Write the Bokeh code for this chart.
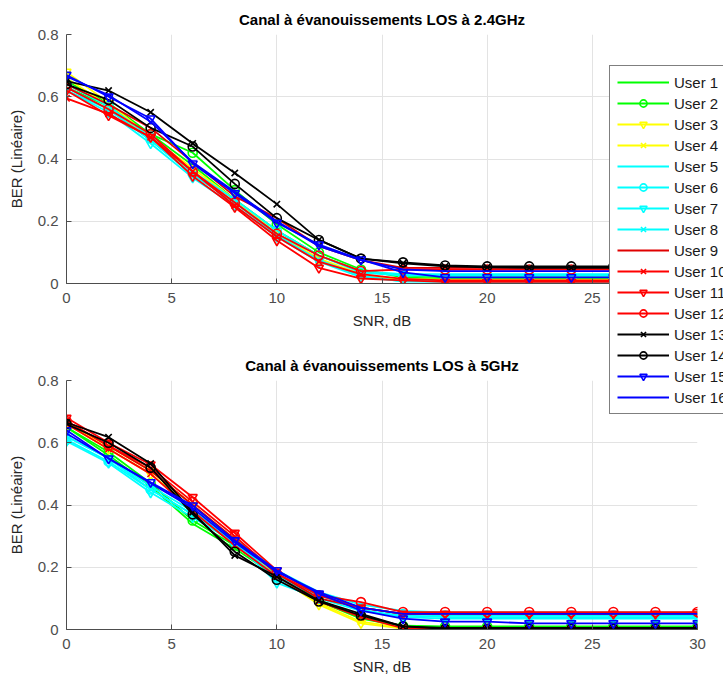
from bokeh.plotting import figure
from bokeh.layouts import column
from bokeh.models import Legend, LegendItem, FixedTicker, Range1d, ColumnDataSource
from bokeh.embed import file_html
from bokeh.resources import INLINE

# ---------------- data ----------------
snr_db = [0, 2, 4, 6, 8, 10, 12, 14, 16, 18, 20, 22, 24, 26, 28, 30]
users = ["User %d" % i for i in range(1, 17)]

title_24 = "Canal à évanouissements LOS à 2.4GHz"
title_5 = "Canal à évanouissements LOS à 5GHz"
x_label = "SNR, dB"
y_label = "BER (Linéaire)"
x_ticks = [0, 5, 10, 15, 20, 25, 30]
y_ticks = [0, 0.2, 0.4, 0.6, 0.8]
y_tick_labels = ["0", "0.2", "0.4", "0.6", "0.8"]

# 2.4 GHz panel
ber_24_u1 = [0.65, 0.58, 0.48, 0.38, 0.27, 0.17, 0.09, 0.04, 0.025, 0.02, 0.02, 0.02, 0.02, 0.02, 0.02, 0.02]
ber_24_u2 = [0.63, 0.57, 0.48, 0.42, 0.30, 0.19, 0.10, 0.045, 0.02, 0.015, 0.015, 0.015, 0.015, 0.015, 0.015, 0.015]
ber_24_u3 = [0.68, 0.58, 0.47, 0.37, 0.27, 0.16, 0.08, 0.03, 0.012, 0.01, 0.01, 0.01, 0.01, 0.01, 0.01, 0.01]
ber_24_u4 = [0.66, 0.57, 0.46, 0.36, 0.26, 0.16, 0.075, 0.025, 0.015, 0.012, 0.012, 0.012, 0.012, 0.012, 0.012, 0.012]
ber_24_u5 = [0.63, 0.56, 0.46, 0.35, 0.26, 0.16, 0.09, 0.04, 0.03, 0.03, 0.03, 0.03, 0.03, 0.03, 0.03, 0.03]
ber_24_u6 = [0.64, 0.57, 0.47, 0.36, 0.27, 0.17, 0.09, 0.035, 0.025, 0.025, 0.025, 0.025, 0.025, 0.025, 0.025, 0.025]
ber_24_u7 = [0.62, 0.55, 0.45, 0.34, 0.25, 0.15, 0.07, 0.02, 0.008, 0.008, 0.008, 0.008, 0.008, 0.008, 0.008, 0.008]
ber_24_u8 = [0.62, 0.56, 0.46, 0.35, 0.26, 0.155, 0.075, 0.025, 0.006, 0.005, 0.005, 0.005, 0.005, 0.005, 0.005, 0.005]
ber_24_u9 = [0.64, 0.575, 0.50, 0.39, 0.28, 0.21, 0.12, 0.075, 0.05, 0.05, 0.05, 0.05, 0.05, 0.05, 0.05, 0.05]
ber_24_u10 = [0.595, 0.545, 0.47, 0.36, 0.25, 0.15, 0.07, 0.03, 0.015, 0.01, 0.01, 0.01, 0.01, 0.01, 0.01, 0.01]
ber_24_u11 = [0.62, 0.54, 0.47, 0.345, 0.245, 0.138, 0.05, 0.016, 0.01, 0.005, 0.005, 0.005, 0.005, 0.005, 0.005, 0.005]
ber_24_u12 = [0.63, 0.56, 0.48, 0.36, 0.26, 0.16, 0.09, 0.04, 0.045, 0.045, 0.045, 0.045, 0.045, 0.045, 0.045, 0.045]
ber_24_u13 = [0.65, 0.62, 0.55, 0.45, 0.355, 0.255, 0.14, 0.08, 0.065, 0.055, 0.052, 0.05, 0.05, 0.05, 0.05, 0.05]
ber_24_u14 = [0.64, 0.59, 0.50, 0.44, 0.32, 0.21, 0.14, 0.08, 0.068, 0.058, 0.055, 0.055, 0.055, 0.055, 0.055, 0.055]
ber_24_u15 = [0.67, 0.60, 0.53, 0.385, 0.29, 0.195, 0.125, 0.077, 0.036, 0.02, 0.02, 0.02, 0.02, 0.02, 0.02, 0.02]
ber_24_u16 = [0.665, 0.605, 0.52, 0.39, 0.295, 0.20, 0.12, 0.075, 0.045, 0.04, 0.04, 0.04, 0.04, 0.04, 0.04, 0.04]

# 5 GHz panel
ber_5_u1 = [0.65, 0.56, 0.46, 0.34, 0.26, 0.17, 0.09, 0.035, 0.01, 0.005, 0.005, 0.005, 0.005, 0.005, 0.005, 0.005]
ber_5_u2 = [0.65, 0.57, 0.47, 0.35, 0.27, 0.175, 0.095, 0.04, 0.012, 0.01, 0.01, 0.01, 0.01, 0.01, 0.01, 0.01]
ber_5_u3 = [0.66, 0.58, 0.50, 0.39, 0.28, 0.17, 0.08, 0.02, 0.003, 0.0, 0.0, 0.0, 0.0, 0.0, 0.0, 0.0]
ber_5_u4 = [0.66, 0.59, 0.51, 0.40, 0.29, 0.17, 0.085, 0.025, 0.005, 0.003, 0.003, 0.003, 0.003, 0.003, 0.003, 0.003]
ber_5_u5 = [0.62, 0.55, 0.46, 0.38, 0.29, 0.19, 0.12, 0.08, 0.06, 0.055, 0.055, 0.055, 0.055, 0.055, 0.055, 0.055]
ber_5_u6 = [0.61, 0.54, 0.45, 0.37, 0.28, 0.17, 0.11, 0.07, 0.05, 0.045, 0.045, 0.045, 0.045, 0.045, 0.045, 0.045]
ber_5_u7 = [0.605, 0.535, 0.44, 0.36, 0.28, 0.15, 0.10, 0.06, 0.045, 0.04, 0.04, 0.04, 0.04, 0.04, 0.04, 0.04]
ber_5_u8 = [0.62, 0.55, 0.45, 0.37, 0.29, 0.16, 0.11, 0.065, 0.04, 0.035, 0.035, 0.035, 0.035, 0.035, 0.035, 0.035]
ber_5_u9 = [0.67, 0.59, 0.51, 0.40, 0.29, 0.18, 0.10, 0.07, 0.05, 0.05, 0.05, 0.05, 0.05, 0.05, 0.05, 0.05]
ber_5_u10 = [0.66, 0.58, 0.50, 0.38, 0.27, 0.17, 0.09, 0.04, 0.004, 0.002, 0.002, 0.002, 0.002, 0.002, 0.002, 0.002]
ber_5_u11 = [0.68, 0.60, 0.53, 0.425, 0.31, 0.19, 0.11, 0.07, 0.05, 0.05, 0.05, 0.05, 0.05, 0.05, 0.05, 0.055]
ber_5_u12 = [0.67, 0.59, 0.52, 0.41, 0.30, 0.18, 0.11, 0.088, 0.056, 0.056, 0.056, 0.056, 0.056, 0.056, 0.056, 0.056]
ber_5_u13 = [0.665, 0.618, 0.533, 0.377, 0.238, 0.17, 0.093, 0.05, 0.01, 0.005, 0.005, 0.005, 0.005, 0.005, 0.005, 0.005]
ber_5_u14 = [0.66, 0.60, 0.52, 0.37, 0.25, 0.16, 0.09, 0.045, 0.01, 0.002, 0.002, 0.002, 0.002, 0.002, 0.002, 0.002]
ber_5_u15 = [0.64, 0.549, 0.473, 0.398, 0.286, 0.19, 0.115, 0.061, 0.035, 0.025, 0.025, 0.02, 0.02, 0.02, 0.02, 0.02]
ber_5_u16 = [0.63, 0.55, 0.47, 0.39, 0.28, 0.185, 0.12, 0.07, 0.05, 0.05, 0.05, 0.05, 0.05, 0.05, 0.05, 0.05]

ber_24 = [ber_24_u1, ber_24_u2, ber_24_u3, ber_24_u4, ber_24_u5, ber_24_u6, ber_24_u7, ber_24_u8,
          ber_24_u9, ber_24_u10, ber_24_u11, ber_24_u12, ber_24_u13, ber_24_u14, ber_24_u15, ber_24_u16]
ber_5 = [ber_5_u1, ber_5_u2, ber_5_u3, ber_5_u4, ber_5_u5, ber_5_u6, ber_5_u7, ber_5_u8,
         ber_5_u9, ber_5_u10, ber_5_u11, ber_5_u12, ber_5_u13, ber_5_u14, ber_5_u15, ber_5_u16]

# ---------------- styles ----------------
colors = ["#00ff00", "#00ff00", "#ffff00", "#ffff00",
          "#00ffff", "#00ffff", "#00ffff", "#00ffff",
          "#e00000", "#ff0000", "#ff0000", "#ff0000",
          "#000000", "#000000", "#0000ff", "#0000ff"]
markers = [None, "circle", "inverted_triangle", "x",
           None, "circle", "inverted_triangle", "x",
           None, "x", "inverted_triangle", "circle",
           "x", "circle", "inverted_triangle", None]

FONT = "Liberation Sans"
AX_COLOR = "#4d4d4d"


def make_fig(title, height, border_top, border_bottom):
    p = figure(width=723, height=height, x_range=Range1d(0, 30), y_range=Range1d(0, 0.8),
               output_backend="svg", toolbar_location=None, title=title,
               min_border_left=66, min_border_right=26,
               min_border_top=border_top, min_border_bottom=border_bottom)
    p.title.align = "center"
    p.title.text_font = FONT
    p.title.text_font_size = "15px"
    p.title.text_font_style = "bold"
    p.title.text_color = "#000000"
    p.title.standoff = 14
    p.outline_line_color = None
    p.border_fill_color = None
    for ax in (p.xaxis[0], p.yaxis[0]):
        ax.axis_line_color = AX_COLOR
        ax.major_tick_line_color = AX_COLOR
        ax.major_tick_in = 5
        ax.major_tick_out = 0
        ax.minor_tick_line_color = None
        ax.major_label_text_font = FONT
        ax.major_label_text_font_size = "15px"
        ax.major_label_text_color = AX_COLOR
        ax.axis_label_text_font = FONT
        ax.axis_label_text_font_size = "15px"
        ax.axis_label_text_font_style = "normal"
        ax.axis_label_text_color = "#262626"
    p.xaxis.axis_label = x_label
    p.yaxis.axis_label = y_label
    p.xaxis.ticker = FixedTicker(ticks=x_ticks)
    p.yaxis.ticker = FixedTicker(ticks=y_ticks)
    p.yaxis.major_label_overrides = {t: s for t, s in zip(y_ticks, y_tick_labels)}
    p.xaxis.major_label_standoff = 9
    p.xaxis.axis_label_standoff = 6
    p.yaxis.major_label_standoff = 8
    p.yaxis.axis_label_standoff = 10
    p.grid.grid_line_color = "#e3e3e3"
    p.grid.grid_line_width = 1
    return p


def draw(p, series):
    items = []
    for name, ys, col, mk in zip(users, series, colors, markers):
        src = ColumnDataSource(dict(x=snr_db, y=ys))
        rs = [p.line("x", "y", source=src, line_color=col, line_width=1.8)]
        if mk is not None:
            rs.append(p.scatter("x", "y", source=src, marker=mk, size=9,
                                line_color=col, fill_color=None, line_width=1.6))
        items.append(LegendItem(label=name, renderers=rs))
    return items


p1 = make_fig(title_24, 340, 34, 57)
draw(p1, ber_24)

p2 = make_fig(title_5, 344, 40, 55)
draw(p2, ber_5)

# Figure-level legend box hanging over both panels (as in the MATLAB figure).
# Its host plot shows a range away from the data, so only the legend is visible.
p3 = figure(width=114, height=350, output_backend="svg", toolbar_location=None,
            x_range=Range1d(-20, -10), y_range=Range1d(-20, -10),
            x_axis_type=None, y_axis_type=None, min_border=0)
p3.frame_align = False
p3.outline_line_color = None
p3.border_fill_color = None
p3.background_fill_color = None
items = draw(p3, ber_5)
p3.margin = (65 - 684, 0, 0, 609)

legend = Legend(items=items, location="top_left")
legend.label_text_font = FONT
legend.label_text_font_size = "15px"
legend.label_text_color = "#1a1a1a"
legend.glyph_width = 52
legend.glyph_height = 18
legend.label_height = 18
legend.spacing = 3
legend.padding = 7
legend.margin = 0
legend.label_standoff = 5
legend.border_line_color = "#000000"
legend.border_line_width = 1
legend.background_fill_color = "#ffffff"
legend.background_fill_alpha = 1.0
p3.add_layout(legend)

layout = column(p1, p2, p3)
open("out.html", "w").write(file_html(layout, INLINE))
